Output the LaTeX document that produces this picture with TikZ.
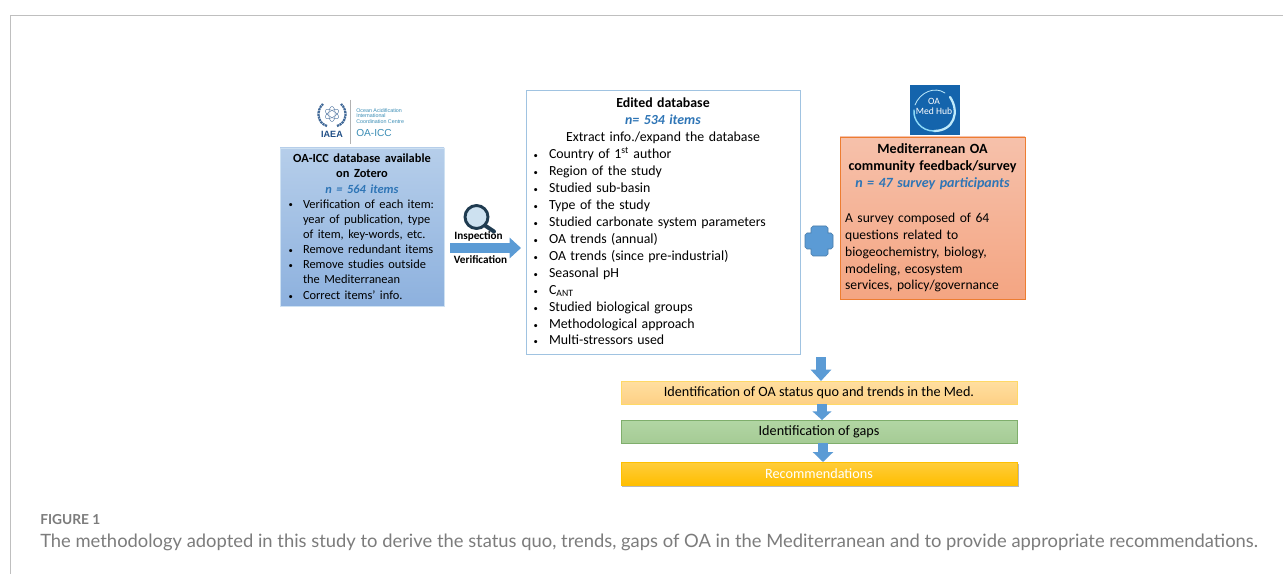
\documentclass[tikz,border=0pt]{standalone}
\usepackage{fontspec}
\setmainfont{Carlito}
\newfontfamily\capfont{Lato}
\newfontfamily\logofont{Liberation Sans}
\usetikzlibrary{arrows.meta,calc}
\definecolor{txtblue}{HTML}{2E75B6}
\definecolor{arrowblue}{HTML}{5B9BD5}
\definecolor{capgray}{HTML}{7C7C7C}
\definecolor{iaeablue}{HTML}{1F4E86}
\definecolor{iaeateal}{HTML}{3A8DB5}
\definecolor{lensdark}{HTML}{1F3B50}
\newcommand{\px}[1]{\fontsize{#1}{#1}\selectfont}
\newcommand{\blt}[1]{\makebox[#1][l]{\hspace*{0.5pt}\raisebox{0.4pt}{\fontsize{6.5pt}{6.5pt}\selectfont •}}}
\tikzset{
  x=0.75pt,y=-0.75pt,
  boxbase/.style={inner sep=0pt,outer sep=0pt,anchor=north west},
  bararrow/.style={draw=arrowblue,line width=7.5pt,-{Triangle[length=8.5pt,width=15pt]},arrowblue},
  barbox/.style={draw,line width=0.7pt,minimum width=297pt,minimum height=17.5pt,inner sep=0pt,outer sep=0pt,anchor=north west,font=\px{10.65pt}},
}
\begin{document}
\begin{tikzpicture}
\useasboundingbox (0,0) rectangle (1283,574);
\fill[white] (0,0) rectangle (1283,574);
% frame
\draw[black!25,line width=0.8pt] (10.5,574) -- (10.5,15.5) -- (1283,15.5);

% IAEA logo
\draw[black!30,line width=0.5pt] (350,100) -- (350,144);
\begin{scope}[draw=iaeablue!70,line width=0.35pt]
  \draw (332,114) ellipse (3.2 and 7.5);
  \draw[rotate around={60:(332,114)}] (332,114) ellipse (3.2 and 7.5);
  \draw[rotate around={120:(332,114)}] (332,114) ellipse (3.2 and 7.5);
\end{scope}
\draw[line width=1.7pt,color=iaeablue!85,dash pattern=on 1.6pt off 0.5pt] (327,126) .. controls (317,123) and (316,110) .. (323,104);
\draw[line width=1.7pt,color=iaeablue!85,dash pattern=on 1.6pt off 0.5pt] (337,126) .. controls (347,123) and (348,110) .. (341,104);
\node[font=\logofont\bfseries\px{6.8pt},text=iaeablue,inner sep=0pt] (iaea) at (332,134) {IAEA};
\node[font=\logofont\px{4pt},text=iaeateal,inner sep=0pt,anchor=west,align=left] (oaicclong) at (356,116) {\fontsize{4pt}{4.6pt}\selectfont Ocean Acidification\\International\\Coordination Centre};
\node[font=\logofont\px{7.6pt},text=iaeateal,inner sep=0pt,anchor=west] (oaicc) at (356,133) {OA-ICC};

% blue box
\node[boxbase,draw=white!70!arrowblue,top color={rgb,255:red,182;green,206;blue,234},bottom color={rgb,255:red,141;green,177;blue,222},line width=0.7pt,
  minimum width=123pt,minimum height=118.5pt,text width=111pt,inner xsep=6pt,align=left] (oaicc box) at (280,148)
{\px{9.3pt}\baselineskip=11.35pt
 \makebox[\linewidth]{\textbf{OA-ICC database available}}\\
 \makebox[\linewidth]{\textbf{on Zotero}}\\
 \makebox[\linewidth]{\textcolor{txtblue}{\textbf{\textit{n = 564 items}}}}\\
 \blt{11.25pt}Verification of each item:\\
 \hspace*{11.25pt}year of publication, type\\
 \hspace*{11.25pt}of item, key-words, etc.\\
 \blt{11.25pt}Remove redundant items\\
 \blt{11.25pt}Remove studies outside\\
 \hspace*{11.25pt}the Mediterranean\\
 \blt{11.25pt}Correct items’ info.};

% edited box
\node[boxbase,draw={rgb,255:red,160;green,195;blue,225},fill=white,line width=0.7pt,
  minimum width=205.5pt,minimum height=198pt,text width=195pt,inner xsep=5.25pt,align=left] (edited) at (526,90)
{\raisebox{0pt}{}\px{10.4pt}\baselineskip=12.75pt
 \makebox[\linewidth]{\textbf{Edited database}}\\
 \makebox[\linewidth]{\textcolor{txtblue}{\textbf{\textit{n= 534 items}}}}\\
 \makebox[\linewidth]{Extract info./expand the database}\\
 \blt{12pt}Country of 1\textsuperscript{st} author\\
 \blt{12pt}Region of the study\\
 \blt{12pt}Studied sub-basin\\
 \blt{12pt}Type of the study\\
 \blt{12pt}Studied carbonate system parameters\\
 \blt{12pt}OA trends (annual)\\
 \blt{12pt}OA trends (since pre-industrial)\\
 \blt{12pt}Seasonal pH\\
 \blt{12pt}C\textsubscript{ANT}\\
 \blt{12pt}Studied biological groups\\
 \blt{12pt}Methodological approach\\
 \blt{12pt}Multi-stressors used\vspace{1pt}};

% OA Med Hub logo
\node[boxbase,fill={rgb,255:red,20;green,100;blue,172},minimum width=37.5pt,minimum height=37.5pt] (medlogo) at (910,85) {};
\draw[cyan!25!white,line width=1.7pt,line cap=round] ($(medlogo.center)+(15,-13)$) .. controls ($(medlogo.center)+(25,2)$) and ($(medlogo.center)+(19,21)$) .. ($(medlogo.center)+(-1,21)$);
\draw[cyan!45!white,line width=1.1pt,line cap=round] ($(medlogo.center)+(-1,21)$) .. controls ($(medlogo.center)+(-14,21)$) and ($(medlogo.center)+(-22,10)$) .. ($(medlogo.center)+(-21,0)$);
\draw[cyan!25!white,line width=0.6pt,line cap=round] ($(medlogo.center)+(-20,-5)$) .. controls ($(medlogo.center)+(-15,-18)$) and ($(medlogo.center)+(0,-24)$) .. ($(medlogo.center)+(10,-17)$);
\node[font=\px{7.2pt},text=white,inner sep=0pt] (medoa) at (934,101) {OA};
\node[font=\px{7.2pt},text=white,inner sep=0pt] (medhub) at (934,111) {Med Hub};

% orange box
\node[boxbase,draw={rgb,255:red,237;green,125;blue,49},top color={rgb,255:red,246;green,193;blue,171},bottom color={rgb,255:red,244;green,165;blue,130},line width=0.7pt,
  minimum width=138.75pt,minimum height=121.5pt,text width=131pt,inner xsep=3.75pt,align=left] (survey) at (840,137)
{\px{10.2pt}\baselineskip=12.9pt
 \makebox[\linewidth]{\px{10.55pt}\textbf{Mediterranean OA}}\\
 \makebox[\linewidth]{\px{10.55pt}\textbf{community feedback/survey}}\\
 \makebox[\linewidth]{\px{10.55pt}\textcolor{txtblue}{\textbf{\textit{n = 47 survey participants}}}}\\
 \mbox{}\\
 A survey composed of 64\\
 questions related to\\
 biogeochemistry, biology,\\
 modeling, ecosystem\\
 services, policy/governance};

% result bars
\node[barbox,draw={rgb,255:red,255;green,217;blue,102},top color={rgb,255:red,255;green,223;blue,160},bottom color={rgb,255:red,253;green,208;blue,133}] (status) at (621,381) {Identification of OA status quo and trends in the Med.};
\node[barbox,draw={rgb,255:red,127;green,174;blue,108},top color={rgb,255:red,178;green,214;blue,164},bottom color={rgb,255:red,165;green,203;blue,149}] (gaps) at (621,420) {Identification of gaps};
\fill[black!28] (622,464) rectangle (1018.5,487);
\node[barbox,draw={rgb,255:red,255;green,192;blue,0},top color={rgb,255:red,255;green,205;blue,60},bottom color={rgb,255:red,255;green,190;blue,0},text=white] (recs) at (621,462) {Recommendations};

% block arrows
\coordinate (inleft) at ($(oaicc box.east)+(6,21)$);
\draw[bararrow] (inleft) -- ($(inleft -| edited.west)+(-5,0)$);
\draw[bararrow] ($(edited.south)+(158,3)$) -- ($(status.north)+(2,0)$);
\draw[bararrow,-{Triangle[length=6.5pt,width=14pt]}] (status.south -| 822,0) -- (gaps.north -| 822,0);
\draw[bararrow,-{Triangle[length=7.5pt,width=15pt]}] (gaps.south -| 823,0) -- (recs.north -| 823,0);

% plus
\fill[arrowblue,draw=arrowblue!80!black,line width=0.4pt] (811,228) -- (813,226) -- (826,226) -- (828,228) -- (828,233) -- (831,233) -- (833,235) -- (833,247) -- (831,249) -- (828,249) -- (828,254) -- (826,256) -- (813,256) -- (811,254) -- (811,249) -- (807,249) -- (805,247) -- (805,235) -- (807,233) -- (811,233) -- cycle;

% magnifier
\draw[line width=2.2pt,color=lensdark,fill={rgb,255:red,205;green,225;blue,240}] (476.5,217) circle (11.5);
\draw[line width=3pt,line cap=round,color=lensdark] (485,225.5) -- (494,231.5);
\node[font=\bfseries\px{8.4pt},inner sep=0pt] (insp) at (478.5,236.5) {Inspection};
\node[font=\bfseries\px{8.4pt},inner sep=0pt] (verif) at (480.5,260) {Verification};

% caption
\node[font=\capfont\bfseries\px{10.3pt},text=capgray,inner sep=0pt,anchor=west] (figlabel) at (40,519.5) {FIGURE 1};
\node[font=\capfont\px{13.78pt},text=capgray,inner sep=0pt,anchor=west] (caption) at (40,542.5) {The methodology adopted in this study to derive the status quo, trends, gaps of OA in the Mediterranean and to provide appropriate recommendations.};
\end{tikzpicture}
\end{document}
